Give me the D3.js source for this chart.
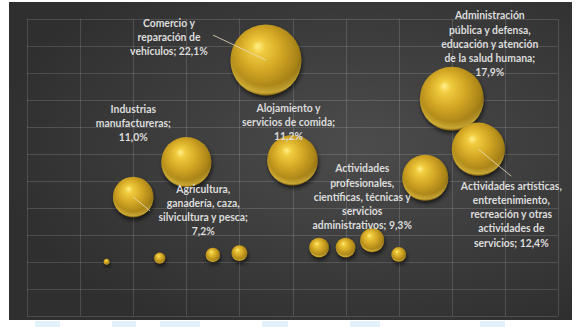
<!DOCTYPE html>
<html>
<head>
<meta charset="utf-8">
<script src="https://cdn.jsdelivr.net/npm/d3@7"></script>
<style>
  html, body { margin: 0; padding: 0; background: #fff; }
  svg { display: block; }
  .lbl { font-family: Lato, "Open Sans", sans-serif; font-weight: bold; font-size: 10.4px; fill: #dcdcdc; }
</style>
</head>
<body>
<svg id="chart"></svg>
<script>
var width = 581,
    height = 327;

// sector position on the x axis (bubbles are laid out every half unit)
var xPos = [1.5, 2, 2.5, 3, 3.5, 4, 4.5, 5, 5.5, 6, 6.5, 7, 7.5, 8, 8.5];
// share of the sector, %  (used for y and for bubble size)
var share = [0.15, 7.2, 0.55, 11.0, 0.9, 1.1, 22.1, 11.2, 1.7, 1.7, 2.5, 0.95, 9.3, 17.9, 12.4];
// label text, split as in the original (last line gets "; xx,x%")
var labelLines = [
  null,
  ["Agricultura,", "ganadería, caza,", "silvicultura y pesca;", ""],
  null,
  ["Industrias", "manufactureras;", ""],
  null,
  null,
  ["Comercio y", "reparación de", "vehículos;"],
  ["Alojamiento y", "servicios de comida;", ""],
  null, null, null, null,
  ["Actividades", "profesionales,", "científicas, técnicas y", "servicios", "administrativos;"],
  ["Administración", "pública y defensa,", "educación y atención", "de la salud humana;", ""],
  ["Actividades artísticas,", "entretenimiento,", "recreación y otras", "actividades de", "servicios;"]
];

// label placement relative to the bubble centre (first line), and leader line end
var labelPos = {
  1:  {dx: 70, dy: -8, lx: 17, ly: 14},
  3:  {dx: -53, dy: -53},
  6:  {dx: -97, dy: -37, lx: -53, ly: -25},
  7:  {dx: -4, dy: -52},
  12: {dx: -63, dy: -9},
  13: {dx: 38, dy: -83},
  14: {dx: 33, dy: 37, lx: 33, ly: 27}
};

var fmt = function(v) { return d3.format(".1f")(v).replace(".", ",") + "%"; };

var svg = d3.select("#chart")
    .attr("width", width)
    .attr("height", height);

var defs = svg.append("defs");

var bg = defs.append("radialGradient").attr("id", "bg")
    .attr("cx", "62%").attr("cy", "45%").attr("r", "65%");
bg.append("stop").attr("offset", "0%").attr("stop-color", "#4c4c4c");
bg.append("stop").attr("offset", "100%").attr("stop-color", "#2f2f2f");

var gold = defs.append("radialGradient").attr("id", "gold")
    .attr("cx", "46%").attr("cy", "42%").attr("r", "60%")
    .attr("fx", "38%").attr("fy", "30%");
gold.append("stop").attr("offset", "0%").attr("stop-color", "#fff08a");
gold.append("stop").attr("offset", "16%").attr("stop-color", "#f0cb3e");
gold.append("stop").attr("offset", "50%").attr("stop-color", "#d2a624");
gold.append("stop").attr("offset", "85%").attr("stop-color", "#a68117");
gold.append("stop").attr("offset", "100%").attr("stop-color", "#6e520a");

var rim = defs.append("radialGradient").attr("id", "rim")
    .attr("cx", "50%").attr("cy", "36%").attr("r", "64%");
rim.append("stop").attr("offset", "78%").attr("stop-color", "#f3d24e").attr("stop-opacity", 0);
rim.append("stop").attr("offset", "94%").attr("stop-color", "#f3d24e").attr("stop-opacity", 0.6);
rim.append("stop").attr("offset", "100%").attr("stop-color", "#f3d24e").attr("stop-opacity", 0);

var shadow = defs.append("filter").attr("id", "shadow")
    .attr("x", "-30%").attr("y", "-30%").attr("width", "170%").attr("height", "170%");
shadow.append("feDropShadow").attr("dx", 1).attr("dy", 3).attr("stdDeviation", 2)
    .attr("flood-color", "#000").attr("flood-opacity", 0.6);

// chart area
svg.append("rect")
    .attr("x", 9).attr("y", 2)
    .attr("width", 563).attr("height", 318)
    .attr("fill", "url(#bg)");

// faint watermark strip under the chart
[[35, 25], [112, 24], [160, 40], [262, 26], [350, 30], [480, 25]].forEach(function(d) {
  svg.append("rect").attr("x", d[0]).attr("y", 321).attr("width", d[1]).attr("height", 6)
      .attr("fill", "#e3f1fa");
});

var x = d3.scaleLinear().domain([0, 10]).range([27, 558]),
    y = d3.scaleLinear().domain([-5.75, 26.57]).range([316, 19]),
    r = d3.scaleSqrt().domain([0, 22.1]).range([0, 35.5]);

// gridlines
var yGrid = d3.range(12).map(function(k) { return -5.75 + k * (26.57 + 5.75) / 11; });

svg.append("g").selectAll("line")
    .data(x.ticks(10))
  .enter().append("line")
    .attr("x1", function(d) { return Math.round(x(d)) + 0.5; })
    .attr("x2", function(d) { return Math.round(x(d)) + 0.5; })
    .attr("y1", y.range()[1]).attr("y2", y.range()[0])
    .attr("stroke", "#ffffff").attr("stroke-opacity", 0.14);

svg.append("g").selectAll("line")
    .data(yGrid)
  .enter().append("line")
    .attr("y1", function(d) { return Math.round(y(d)) + 0.5; })
    .attr("y2", function(d) { return Math.round(y(d)) + 0.5; })
    .attr("x1", x.range()[0]).attr("x2", x.range()[1])
    .attr("stroke", "#ffffff").attr("stroke-opacity", 0.14);

var data = xPos.map(function(v, i) { return {i: i, x: v, s: share[i], lines: labelLines[i]}; });

// bubbles, largest at the back
var bub = svg.append("g").selectAll("g")
    .data(data.slice().sort(function(a, b) { return b.s - a.s; }))
  .enter().append("g")
    .attr("transform", function(d) { return "translate(" + x(d.x) + "," + y(d.s) + ")"; });

bub.append("circle")
    .attr("r", function(d) { return r(d.s); })
    .attr("fill", "url(#gold)")
    .attr("filter", "url(#shadow)");

bub.append("circle")
    .attr("r", function(d) { return r(d.s); })
    .attr("fill", "url(#rim)");

// leader lines
var labelled = data.filter(function(d) { return d.lines; });

svg.append("g").selectAll("line")
    .data(labelled.filter(function(d) { return labelPos[d.i].lx !== undefined; }))
  .enter().append("line")
    .attr("x1", function(d) { return x(d.x); })
    .attr("y1", function(d) { return y(d.s); })
    .attr("x2", function(d) { return x(d.x) + labelPos[d.i].lx; })
    .attr("y2", function(d) { return y(d.s) + labelPos[d.i].ly; })
    .attr("stroke", "#e8e0c0").attr("stroke-width", 0.8);

// labels
var lbl = svg.append("g").selectAll("text")
    .data(labelled)
  .enter().append("text")
    .attr("class", "lbl")
    .attr("text-anchor", "middle")
    .attr("x", function(d) { return x(d.x) + labelPos[d.i].dx; })
    .attr("y", function(d) { return y(d.s) + labelPos[d.i].dy; });

lbl.each(function(d) {
  var t = d3.select(this),
      n = d.lines.length;
  d.lines.forEach(function(line, k) {
    var txt = line;
    if (k === n - 1) txt = line ? line + " " + fmt(d.s) : fmt(d.s);
    t.append("tspan")
        .attr("x", x(d.x) + labelPos[d.i].dx)
        .attr("dy", k === 0 ? "0.35em" : 14.2)
        .text(txt);
  });
});
</script>
</body>
</html>
